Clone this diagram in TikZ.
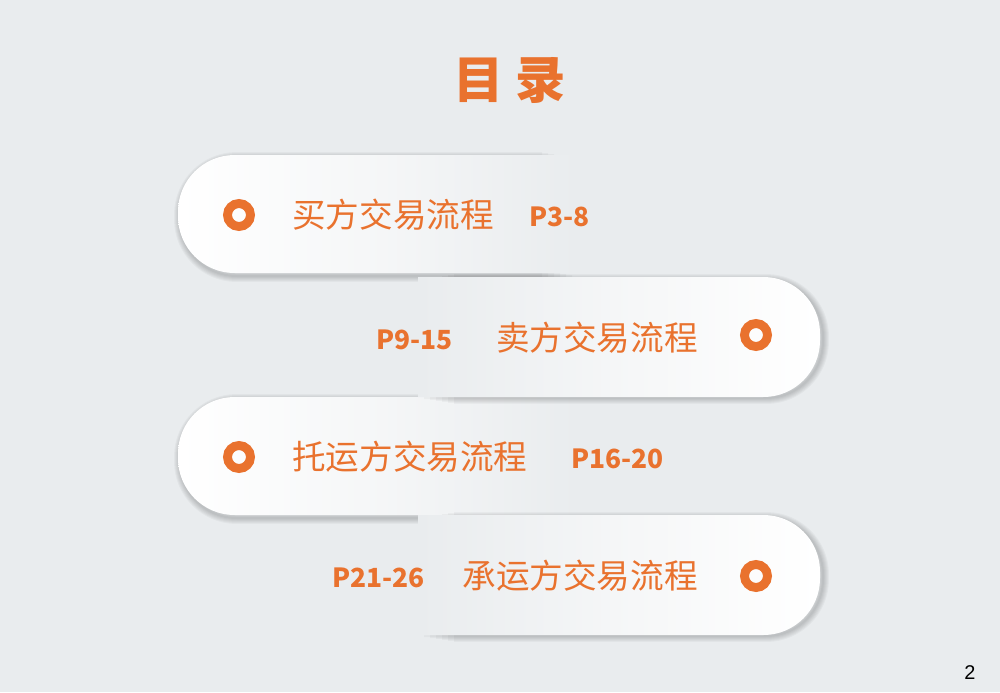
\documentclass[tikz,border=0pt]{standalone}
\usepackage{fontspec}
\newfontfamily\cjk{Noto Sans CJK SC}
\setmainfont{Liberation Sans}
\usetikzlibrary{positioning}

\definecolor{bgcol}{HTML}{E9ECEE}
\definecolor{orangecol}{HTML}{E9722E}

\begin{document}
\begin{tikzpicture}[x=0.03cm, y=-0.03cm,
                    ring/.style={circle, draw=orangecol, line width=7.6pt, minimum size=0.69cm, inner sep=0pt},
                    item/.style={text=orangecol, inner sep=0pt, font=\cjk\fontsize{28.7}{30}\selectfont},
                    pages/.style={text=orangecol, inner sep=0pt, font=\cjk\bfseries\fontsize{22.5}{24}\selectfont},
                    shade_style/.style={draw=black, opacity=0.03}]
                    % background
                    \fill[bgcol] (0,0) rectangle (1000,692);
                    % tabs with the round end on the left
                    \foreach \top in {155, 397} {
                      \foreach \w in {2,4,...,12}
                        \draw[shade_style, line width=\w*0.85pt, rounded corners=1.7cm]
                          (578-3*\w,\top+3) -- (180,\top+3) -- (180,\top+121) [sharp corners] -- (578-3*\w,\top+121);
                      \shade[left color=white, right color=bgcol, middle color=white!55!bgcol, rounded corners=1.7cm]
                        (578,\top) -- (178,\top) -- (178,\top+118) [sharp corners] -- (578,\top+118) -- cycle;
                    }
                    % tabs with the round end on the right
                    \foreach \top in {277, 515} {
                      \foreach \w in {2,4,...,12}
                        \draw[shade_style, line width=\w*0.85pt, rounded corners=1.7cm]
                          (418+3*\w,\top+3) -- (823,\top+3) -- (823,\top+121) [sharp corners] -- (418+3*\w,\top+121);
                      \shade[left color=bgcol, right color=white, middle color=white!55!bgcol, rounded corners=1.7cm]
                        (418,\top) -- (820,\top) -- (820,\top+120) [sharp corners] -- (418,\top+120) -- cycle;
                    }
                    % title
                    \node[text=orangecol, inner sep=0pt, font=\cjk\bfseries\fontsize{43}{45}\selectfont] (title) at (510,80) {目 录};
                    % items
                    \node[ring] (r1) at (239,215) {};
                    \node[item, anchor=west] (t1) at (292,215) {买方交易流程};
                    \node[pages, anchor=west] (p1) at (529,217) {P3-8};
                    \node[ring] (r2) at (756,335) {};
                    \node[item, anchor=east] (t2) at (698,338) {卖方交易流程};
                    \node[pages, anchor=east] (p2) at (453,340) {P9-15};
                    \node[ring] (r3) at (239,457) {};
                    \node[item, anchor=west] (t3) at (292,457) {托运方交易流程};
                    \node[pages, anchor=west] (p3) at (571,459) {P16-20};
                    \node[ring] (r4) at (756,576) {};
                    \node[item, anchor=east] (t4) at (698,576) {承运方交易流程};
                    \node[pages, anchor=east] (p4) at (425,578) {P21-26};
                    % page number
                    \node[inner sep=0pt, font=\fontsize{17}{18}\selectfont] (pnum) at (970,673) {2};
                \end{tikzpicture}
\end{document}
